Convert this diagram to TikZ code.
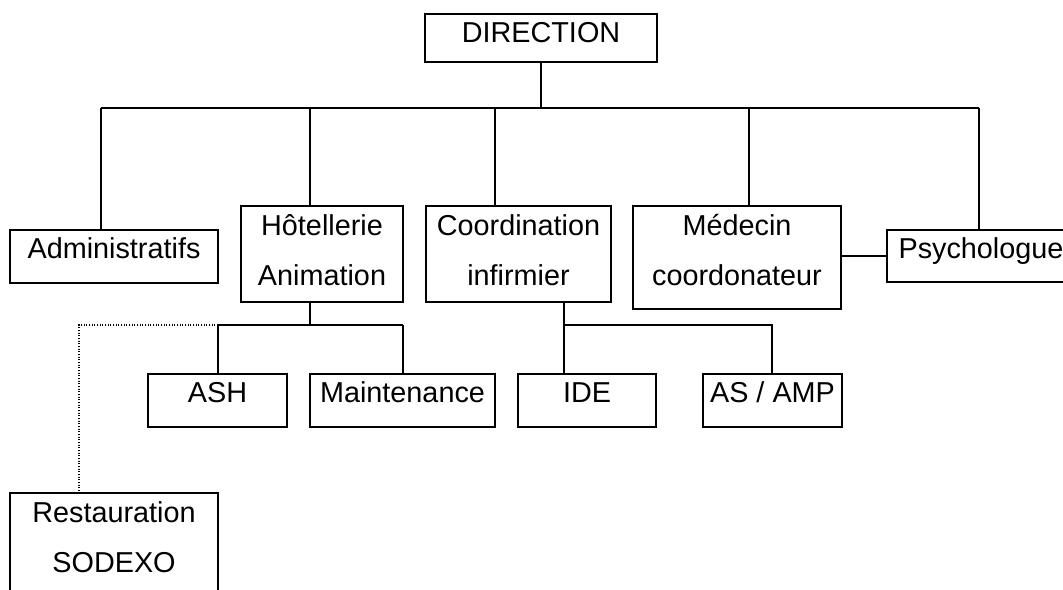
\documentclass[tikz,border=0pt]{standalone}
\usepackage{fontspec}
\setmainfont{Liberation Sans}
\usepackage{tikz}

\tikzset{
	box/.style={draw, line width=1.4pt, inner sep=0pt, anchor=north, align=center,
		font=\fontsize{21.6pt}{37.5pt}\selectfont},
	one/.style={box, text height=21.75pt, text depth=#1},
	one/.default=18pt,
	two/.style={box, text height=60pt, text depth=#1},
	two/.default=12pt,
	link/.style={line width=1.4pt},
	dotlink/.style={line width=0.8pt, dash pattern=on 0.8pt off 1.2pt}
}

\begin{document}
\begin{tikzpicture}[x=0.75pt,y=-0.75pt]
	\useasboundingbox (0,0) rectangle (1063,589);
	\node[one=14.25pt, minimum width=174pt] (dir) at (541,13) {DIRECTION};
	\node[one, minimum width=156pt] (admin) at (114,229) {Administratifs};
	\node[two, minimum width=121.5pt] (hotel) at (322,205) {H\^otellerie\\Animation};
	\node[two, minimum width=138.75pt] (coord) at (518.5,205) {Coordination\\infirmier};
	\node[two=17.25pt, minimum width=156pt] (med) at (737,205) {M\'edecin\\coordonateur};
	\node[one=17.25pt, minimum width=141pt] (psy) at (981,229) {Psychologue};
	\node[one, minimum width=104.25pt] (ash) at (217.5,373) {ASH};
	\node[one, minimum width=138.75pt] (maint) at (402.5,373) {Maintenance};
	\node[one, minimum width=103.5pt] (ide) at (587,373) {IDE};
	\node[one, minimum width=104.25pt] (asamp) at (772.5,373) {AS / AMP};
	\node[two=18pt, minimum width=156pt] (resto) at (114,492) {Restauration\\SODEXO};

	\coordinate (busL) at (101,108);
	\coordinate (busR) at (979,108);
	\coordinate (dH) at (310,108);
	\coordinate (dC) at (495,108);
	\coordinate (dM) at (749,108);
	\coordinate (hL) at (218,325);
	\coordinate (hR) at (403,325);
	\coordinate (cL) at (564,325);
	\coordinate (cR) at (772,325);
	\coordinate (rD) at (79,325);

	\draw[link] (dir.south) -- (dir.south |- busL);
	\draw[link] (busL) -- (busR);
	\draw[link] (busL) -- (busL |- admin.north);
	\draw[link] (dH) -- (dH |- hotel.north);
	\draw[link] (dC) -- (dC |- coord.north);
	\draw[link] (dM) -- (dM |- med.north);
	\draw[link] (busR) -- (busR |- psy.north);
	\draw[link] (psy.west) -- (psy.west -| med.east);

	\draw[link] (dH |- hotel.south) -- (dH |- hL);
	\draw[link] (hL) -- (hR);
	\draw[link] (hL) -- (hL |- ash.north);
	\draw[link] (hR) -- (hR |- maint.north);
	\draw[dotlink] (hL) -- (rD) -- (rD |- resto.north);

	\draw[link] (cL |- coord.south) -- (cL |- ide.north);
	\draw[link] (cL) -- (cR) -- (cR |- asamp.north);
\end{tikzpicture}
\end{document}
